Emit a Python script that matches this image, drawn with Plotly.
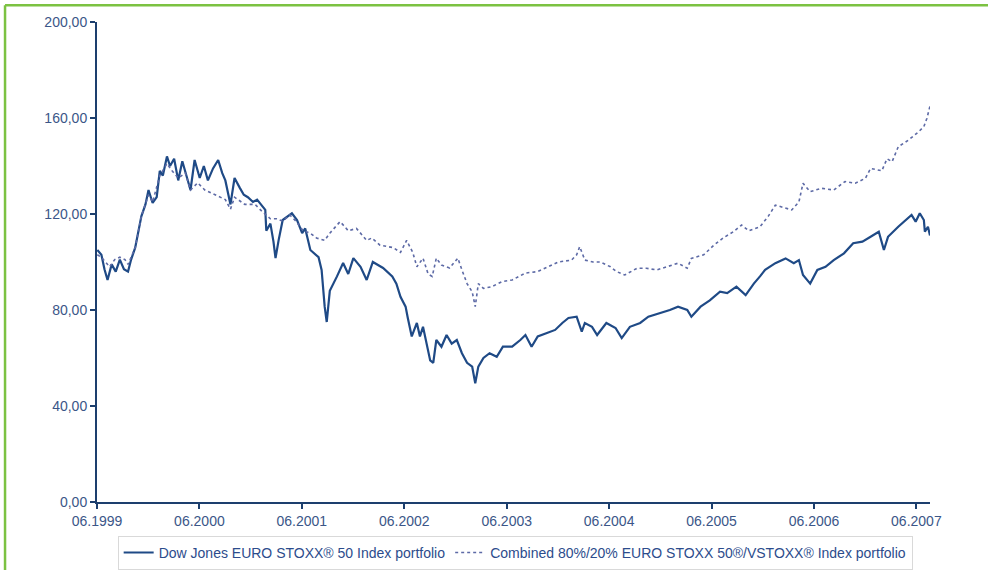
import plotly.graph_objects as go

# ---- data (decimal years, index values) ----
stoxx_t = [1999.42, 1999.46, 1999.49, 1999.52, 1999.56, 1999.60, 1999.64, 1999.68, 1999.72, 1999.75,
           1999.79, 1999.82, 1999.85, 1999.89, 1999.92, 1999.96, 2000.00, 2000.03, 2000.06, 2000.10,
           2000.13, 2000.17, 2000.21, 2000.25, 2000.29, 2000.33, 2000.37, 2000.42, 2000.46, 2000.50,
           2000.55, 2000.60, 2000.64, 2000.67, 2000.72, 2000.76, 2000.81, 2000.85, 2000.89, 2000.94,
           2000.98, 2001.03, 2001.06, 2001.07, 2001.11, 2001.14, 2001.16, 2001.19, 2001.23, 2001.32,
           2001.37, 2001.42, 2001.45, 2001.50, 2001.58, 2001.61, 2001.64, 2001.66, 2001.69, 2001.76,
           2001.82, 2001.87, 2001.92, 2001.99, 2002.05, 2002.11, 2002.21, 2002.30, 2002.34, 2002.38,
           2002.43, 2002.45, 2002.49, 2002.54, 2002.57, 2002.60, 2002.65, 2002.67, 2002.70, 2002.73,
           2002.78, 2002.83, 2002.88, 2002.93, 2002.98, 2003.03, 2003.08, 2003.11, 2003.14, 2003.19,
           2003.25, 2003.32, 2003.38, 2003.47, 2003.55, 2003.60, 2003.66, 2003.72, 2003.81, 2003.89,
           2003.96, 2004.02, 2004.10, 2004.15, 2004.18, 2004.25, 2004.30, 2004.39, 2004.48, 2004.54,
           2004.62, 2004.72, 2004.80, 2004.92, 2005.01, 2005.09, 2005.18, 2005.22, 2005.31, 2005.40,
           2005.50, 2005.57, 2005.66, 2005.75, 2005.83, 2005.89, 2005.94, 2006.04, 2006.14, 2006.22,
           2006.27, 2006.31, 2006.38, 2006.45, 2006.53, 2006.61, 2006.71, 2006.80, 2006.89, 2006.97,
           2007.05, 2007.10, 2007.14, 2007.24, 2007.34, 2007.37, 2007.41, 2007.45, 2007.49, 2007.50,
           2007.53, 2007.55]
stoxx_v = [105, 103, 97, 92.5, 99, 96, 101, 97, 96, 101,
           106, 112, 119, 124, 130, 124.6, 127, 138, 136, 144,
           140, 143, 134, 142, 136, 130, 142.5, 135, 140, 134,
           139, 142.5, 137, 134, 124, 135, 131, 128, 127, 125,
           126, 123, 121.7, 113, 116, 108.5, 101.6, 109, 117.5, 120.3,
           117.5, 112, 114, 105, 102, 96.7, 81.4, 75, 88, 94,
           99.6, 95, 101.6, 98, 92.5, 100, 97.5, 94, 91, 85.5,
           81.4, 77, 69, 74.6, 69, 73, 62, 59, 58, 67.5,
           64.7, 69.6, 66, 67.5, 62, 58, 56.4, 49.5, 56.4, 60,
           62, 60.5, 64.7, 64.7, 67.5, 69.6, 64.7, 69, 70.4, 71.7,
           74.6, 76.7, 77.2, 71, 74.6, 73, 69.6, 74.6, 72.5, 68.3,
           73, 74.6, 77.2, 78.7, 80, 81.4, 80, 77.2, 81.4, 84,
           87.6, 87, 89.7, 86.2, 91, 94, 96.7, 99.5, 101.5, 99.5,
           100.8, 94.6, 91, 96.7, 98, 100.8, 103.6, 107.8, 108.5, 110.5,
           112.6, 105, 110.5, 114.7, 118.2, 119.6, 116.8, 120.3, 117.5, 112.6,
           114.7, 111]

combo_t = [1999.42, 1999.46, 1999.50, 1999.54, 1999.59, 1999.64, 1999.69, 1999.72, 1999.75, 1999.79,
           1999.85, 1999.92, 1999.96, 2000.03, 2000.10, 2000.15, 2000.21, 2000.28, 2000.33, 2000.40,
           2000.47, 2000.57, 2000.67, 2000.72, 2000.76, 2000.86, 2000.96, 2001.03, 2001.11, 2001.17,
           2001.23, 2001.30, 2001.36, 2001.43, 2001.50, 2001.56, 2001.64, 2001.69, 2001.79, 2001.83,
           2001.87, 2001.95, 2002.05, 2002.10, 2002.18, 2002.31, 2002.38, 2002.44, 2002.50, 2002.54,
           2002.60, 2002.65, 2002.69, 2002.73, 2002.78, 2002.86, 2002.94, 2002.98, 2003.03, 2003.08,
           2003.11, 2003.14, 2003.19, 2003.27, 2003.37, 2003.47, 2003.60, 2003.72, 2003.82, 2003.92,
           2004.05, 2004.10, 2004.13, 2004.18, 2004.26, 2004.33, 2004.43, 2004.49, 2004.57, 2004.69,
           2004.78, 2004.88, 2004.98, 2005.09, 2005.18, 2005.22, 2005.34, 2005.44, 2005.53, 2005.63,
           2005.71, 2005.78, 2005.89, 2005.97, 2006.04, 2006.14, 2006.20, 2006.27, 2006.31, 2006.38,
           2006.49, 2006.61, 2006.72, 2006.82, 2006.92, 2006.97, 2007.08, 2007.13, 2007.18, 2007.24,
           2007.34, 2007.44, 2007.49, 2007.52, 2007.54, 2007.55]
combo_v = [103, 102, 100, 98, 101, 102, 101, 99, 102, 106,
           119, 128, 125, 136, 141, 138, 135, 137, 130, 133,
           130, 128, 126, 122, 127, 124, 124, 121, 118, 118,
           117, 119.6, 117, 113, 112, 110, 109, 112, 116.8, 115,
           113, 114, 109, 110, 107, 106, 104, 109, 104, 98,
           101.6, 95, 94, 101.6, 98.7, 97.5, 101.6, 96.7, 91, 87.6,
           81.4, 91, 89, 89.7, 91.8, 92.5, 95.4, 96, 98, 100,
           100.8, 103, 106.4, 100.8, 100, 100, 98, 96, 94.6, 97.4,
           97.4, 96.7, 98, 99.5, 97.4, 101.5, 103, 107, 110, 112.6,
           115.4, 113, 114.7, 119, 123.7, 122.4, 121.7, 125, 132.8, 129.3,
           130.7, 130, 133.5, 132.8, 134.9, 139, 138, 143, 141.8, 148,
           150.8, 154.3, 156.4, 159.9, 163.3, 165]

x_tick_vals = [1999.417, 2000.417, 2001.417, 2002.417, 2003.417, 2004.417, 2005.417, 2006.417, 2007.417]
x_tick_text = ["06.1999", "06.2000", "06.2001", "06.2002", "06.2003", "06.2004", "06.2005", "06.2006", "06.2007"]
y_tick_vals = [0, 40, 80, 120, 160, 200]
y_tick_text = ["0,00", "40,00", "80,00", "120,00", "160,00", "200,00"]

name_a = "Dow Jones EURO STOXX\u00ae 50 Index portfolio"
name_b = "Combined 80%/20% EURO STOXX 50\u00ae/VSTOXX\u00ae Index portfolio"

AXIS = "#1d3f6e"
TEXT = "#3b5688"

fig = go.Figure()
fig.add_trace(go.Scatter(x=stoxx_t, y=stoxx_v, mode="lines", name=name_a,
                         line=dict(color="#1f4a86", width=2.2)))
fig.add_trace(go.Scatter(x=combo_t, y=combo_v, mode="lines", name=name_b,
                         line=dict(color="#5d6aa6", width=1.6, dash="dot")))

fig.update_layout(
    width=988, height=570,
    margin=dict(l=97, r=58, t=22, b=68, autoexpand=False),
    paper_bgcolor="white", plot_bgcolor="white",
    font=dict(family="Liberation Sans, Arial, sans-serif", color=TEXT, size=13),
    showlegend=True,
    legend=dict(orientation="h", x=0.502, xanchor="center", y=-0.106, yanchor="middle",
                bordercolor="#d9d9d9", borderwidth=1, bgcolor="white",
                font=dict(size=14, color="#2c4c8c"), itemwidth=30, tracegroupgap=0),
    shapes=[
        dict(type="line", xref="paper", yref="paper", x0=-0.1104, x1=1.07, y0=1.035, y1=1.035,
             line=dict(color="#7cc242", width=2.5)),
        dict(type="line", xref="paper", yref="paper", x0=-0.1104, x1=-0.1104, y0=1.035, y1=-0.15,
             line=dict(color="#7cc242", width=2.5)),
    ],
)
fig.update_xaxes(range=[1999.417, 2007.55], tickmode="array", tickvals=x_tick_vals, ticktext=x_tick_text,
                 showgrid=False, zeroline=False, showline=True, linecolor=AXIS, linewidth=2,
                 ticks="outside", ticklen=5, tickwidth=2, tickcolor=AXIS,
                 tickfont=dict(size=14, color=TEXT))
fig.update_yaxes(range=[0, 200], tickmode="array", tickvals=y_tick_vals, ticktext=y_tick_text,
                 showgrid=False, zeroline=False, showline=True, linecolor=AXIS, linewidth=2,
                 ticks="outside", ticklen=5, tickwidth=2, tickcolor=AXIS,
                 tickfont=dict(size=14, color=TEXT))

fig.write_html("out.html")
